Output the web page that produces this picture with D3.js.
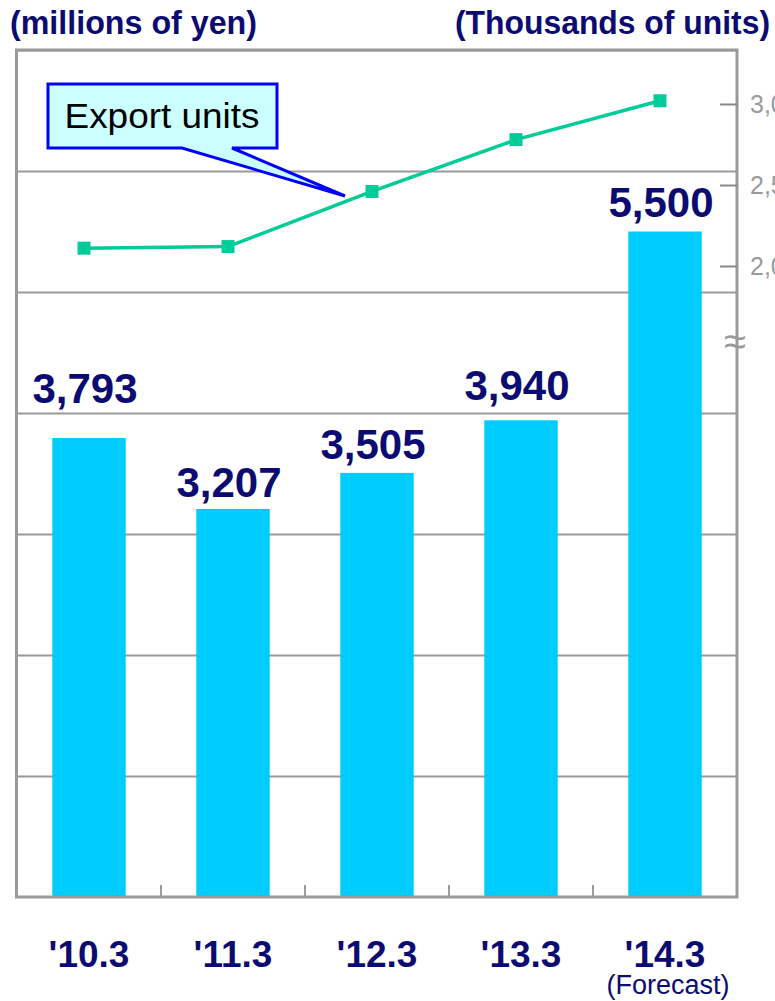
<!DOCTYPE html>
<html>
<head>
<meta charset="utf-8">
<script src="https://cdn.jsdelivr.net/npm/d3@7"></script>
<style>
  html, body { margin: 0; padding: 0; background: #fff; }
  svg { display: block; font-family: "Liberation Sans", Arial, sans-serif; }
</style>
</head>
<body>
<svg id="chart"></svg>
<script>
(function() {

  // data
  const periods = ["'10.3", "'11.3", "'12.3", "'13.3", "'14.3"];
  const sales = [3793, 3207, 3505, 3940, 5500];          // millions of yen
  const exportUnits = [2110, 2120, 2460, 2780, 3020];    // thousands of units
  const unitTicks = [2000, 2500, 3000];
  const salesTicks = [1000, 2000, 3000, 4000, 5000, 6000, 7000];

  // small hand nudges of the value labels (px above the bar top)
  const labelGap = [35, 12, 14, 20, 15];

  const width = 775;
  const height = 1001;
  const margin = { left: 17, right: 38, top: 50, bottom: 104 };
  const navy = '#0b0b72';
  const gray = '#9a9a9a';

  const svg = d3.select('#chart')
    .attr('width', width)
    .attr('height', height);

  const x = d3.scaleBand()
    .domain(periods)
    .range([margin.left, width - margin.right])
    .paddingInner(0.49)
    .paddingOuter(0.245);

  const y = d3.scaleLinear()
    .domain([0, 7000])
    .range([height - margin.bottom, margin.top]);

  // right axis (broken), 3,000 at y=104, 2,000 at y=266
  const y2 = d3.scaleLinear()
    .domain([2000, 3000])
    .range([266, 104]);

  const cx = function(d) { return x(d) + x.bandwidth() / 2; };

  // gridlines
  svg.append('g')
    .attr('transform', 'translate(' + margin.left + ',0)')
    .call(d3.axisLeft(y).tickValues(salesTicks).tickSize(-(width - margin.left - margin.right)).tickFormat(''))
    .call(function(g) { g.select('.domain').remove(); })
    .selectAll('line')
    .attr('stroke', gray)
    .attr('stroke-width', 2);

  // bars
  svg.append('g').selectAll('rect')
    .data(sales)
    .enter()
    .append('rect')
    .attr('x', function(d, i) { return x(periods[i]); })
    .attr('y', function(d) { return y(d); })
    .attr('width', x.bandwidth())
    .attr('height', function(d) { return y(0) - y(d); })
    .attr('fill', '#00ccff');

  // frame
  svg.append('rect')
    .attr('x', margin.left - 0.5)
    .attr('y', y(7000))
    .attr('width', width - margin.left - margin.right + 0.5)
    .attr('height', y(0) - y(7000))
    .attr('fill', 'none')
    .attr('stroke', gray)
    .attr('stroke-width', 3);

  // category ticks on the bottom
  svg.append('g').selectAll('line')
    .data(periods.slice(0, -1))
    .enter()
    .append('line')
    .attr('x1', function(d) { return cx(d) + x.step() / 2; })
    .attr('x2', function(d) { return cx(d) + x.step() / 2; })
    .attr('y1', y(0))
    .attr('y2', y(0) - 12)
    .attr('stroke', gray)
    .attr('stroke-width', 2);

  // right axis
  const right = svg.append('g')
    .attr('transform', 'translate(' + (width - margin.right) + ',0)')
    .call(d3.axisRight(y2).tickValues(unitTicks).tickSize(-17).tickPadding(13).tickFormat(d3.format(',')));
  right.select('.domain').remove();
  right.selectAll('line').attr('stroke', '#888').attr('stroke-width', 2);
  right.selectAll('text')
    .attr('fill', gray)
    .style('font-size', '25px')
    .attr('dy', '0.35em');

  // axis break mark
  svg.append('text')
    .attr('x', width - margin.right - 2)
    .attr('y', 355)
    .attr('text-anchor', 'middle')
    .attr('fill', gray)
    .style('font-size', '40px')
    .text('\u2248');

  // export units line
  const lx = function(d) { return cx(d) - 5; };
  const line = d3.line()
    .x(function(d, i) { return lx(periods[i]); })
    .y(function(d) { return y2(d); });

  svg.append('path')
    .datum(exportUnits)
    .attr('d', line)
    .attr('fill', 'none')
    .attr('stroke', '#00cc99')
    .attr('stroke-width', 3.5);

  svg.append('g').selectAll('rect')
    .data(exportUnits)
    .enter()
    .append('rect')
    .attr('x', function(d, i) { return lx(periods[i]) - 6.5; })
    .attr('y', function(d) { return y2(d) - 6.5; })
    .attr('width', 13)
    .attr('height', 13)
    .attr('fill', '#00cc99');

  // value labels
  svg.append('g').selectAll('text')
    .data(sales)
    .enter()
    .append('text')
    .attr('x', function(d, i) { return cx(periods[i]) - 4; })
    .attr('y', function(d, i) { return y(d) - labelGap[i]; })
    .attr('text-anchor', 'middle')
    .attr('fill', navy)
    .style('font-size', '42px')
    .style('font-weight', 'bold')
    .text(d3.format(','));

  // category labels
  svg.append('g').selectAll('text')
    .data(periods)
    .enter()
    .append('text')
    .attr('x', function(d) { return cx(d); })
    .attr('y', 967)
    .attr('text-anchor', 'middle')
    .attr('fill', navy)
    .style('font-size', '37px')
    .style('font-weight', 'bold')
    .text(function(d) { return d; });

  svg.append('text')
    .attr('x', cx(periods[4]) + 3)
    .attr('y', 994)
    .attr('text-anchor', 'middle')
    .attr('fill', navy)
    .style('font-size', '27px')
    .text('(Forecast)');

  // unit titles
  svg.append('text')
    .attr('x', 10)
    .attr('y', 34)
    .attr('fill', navy)
    .attr('textLength', 247)
    .attr('lengthAdjust', 'spacingAndGlyphs')
    .style('font-size', '33px')
    .style('font-weight', 'bold')
    .text('(millions of yen)');

  svg.append('text')
    .attr('x', 455)
    .attr('y', 34)
    .attr('fill', navy)
    .attr('textLength', 315)
    .attr('lengthAdjust', 'spacingAndGlyphs')
    .style('font-size', '33px')
    .style('font-weight', 'bold')
    .text('(Thousands of units)');

  // callout legend
  const callout = d3.path();
  callout.moveTo(48, 84);
  callout.lineTo(277, 84);
  callout.lineTo(277, 148);
  callout.lineTo(232, 148);
  callout.lineTo(345, 196);
  callout.lineTo(182, 148);
  callout.lineTo(48, 148);
  callout.closePath();

  svg.append('path')
    .attr('d', callout.toString())
    .attr('fill', '#ccffff')
    .attr('stroke', '#0000ff')
    .attr('stroke-width', 3)
    .attr('stroke-linejoin', 'miter');

  svg.append('text')
    .attr('x', 162)
    .attr('y', 128)
    .attr('text-anchor', 'middle')
    .attr('fill', '#000')
    .attr('textLength', 195)
    .attr('lengthAdjust', 'spacingAndGlyphs')
    .style('font-size', '35px')
    .text('Export units');
})();
</script>
</body>
</html>
